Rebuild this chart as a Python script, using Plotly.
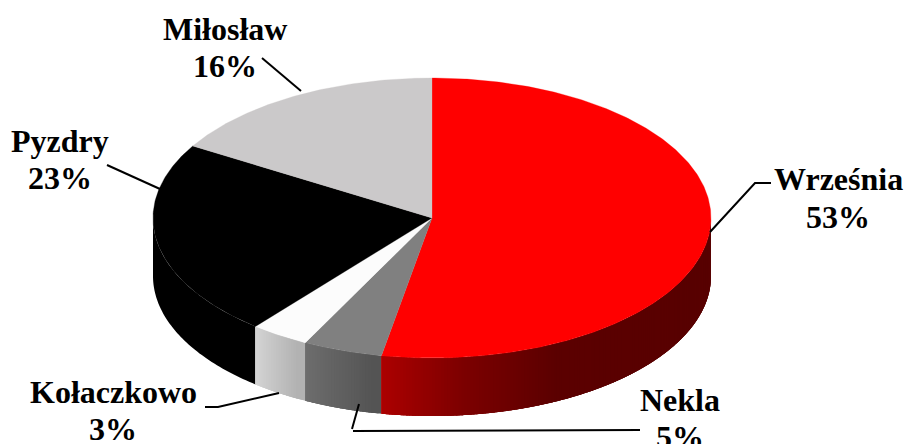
import numpy as np
import plotly.graph_objects as go

categories = ["Września", "Nekla", "Kołaczkowo", "Pyzdry", "Miłosław"]
values = [52.9, 4.6, 3.4, 22.7, 16.4]
percent_labels = ["53%", "5%", "3%", "23%", "16%"]
top_colors = ["#ff0000", "#808080", "#fcfcfc", "#000000", "#cbc9ca"]
# wall colour at left edge / right edge of each slice's visible side (by x)
wall_stops = [
    [(382, (176, 0, 0)), (470, (125, 0, 0)), (560, (92, 0, 0)), (711, (88, 0, 0))],
    [(305, (112, 112, 112)), (382, (84, 84, 84))],
    [(256, (216, 216, 216)), (305, (178, 178, 178))],
    [(153, (0, 0, 0)), (256, (0, 0, 0))],
    [(153, (120, 120, 120)), (256, (120, 120, 120))],
]
CX, CY, RX, RY, DEPTH = 432, 218, 279, 140, 58
FONT = "Liberation Serif"
FS = 32

# label centres: (x, y of name, y of percent)
label_pos = [(838, 179, 217), (680, 400, 437), (113, 392, 429), (60, 141, 178), (225, 29, 66)]
leaders = [
    [(710, 232), (755, 183), (771, 183)],
    [(359, 404), (352, 429)],
    [(353, 431), (640, 430)],
    [(205, 407), (218, 407), (279, 393)],
    [(107, 165), (160, 189)],
    [(262, 58), (301, 91)],
]


def pt(a):
    return CX + RX * np.sin(a), CY - RY * np.cos(a)


fig = go.Figure()
total = sum(values)
bounds = np.cumsum([0] + values) / total * 2 * np.pi

# side walls: each strip overlaps the next one, which paints over it
for i in [3, 2, 1, 0]:
    a0, a1 = bounds[i], bounds[i + 1]
    lo, hi = max(a0, np.pi / 2), min(a1, 3 * np.pi / 2)
    if lo >= hi:
        continue
    stops = wall_stops[i]
    flat = stops[0][1] == stops[-1][1]
    n = 1 if flat else max(10, int((hi - lo) / np.radians(0.6)))
    edges = np.linspace(lo, hi, n + 1)
    sx = [s[0] for s in stops]
    # paint from the far end of the slice side back, so that strips overlap
    for k in range(n - 1, -1, -1):
        start = edges[k]
        end = min(edges[k + 1] + np.radians(1.5), hi)
        e = np.linspace(start, end, 6 if not flat else 60)
        x, y = pt(e)
        midx = pt((edges[k] + edges[k + 1]) / 2)[0]
        rgb = [int(np.interp(midx, sx, [s[1][c] for s in stops])) for c in range(3)]
        col = f"rgb({rgb[0]},{rgb[1]},{rgb[2]})"
        fig.add_trace(go.Scatter(
            x=list(x) + list(x[::-1]),
            y=list(y) + list((y + DEPTH)[::-1]),
            mode="none", fill="toself", fillcolor=col,
            hoverinfo="skip", showlegend=False))

# top faces
for i, name in enumerate(categories):
    e = np.linspace(bounds[i], bounds[i + 1], max(6, int(values[i] * 6)))
    x, y = pt(e)
    fig.add_trace(go.Scatter(
        x=[CX] + list(x) + [CX], y=[CY] + list(y) + [CY],
        mode="lines", fill="toself", fillcolor=top_colors[i],
        line=dict(color=top_colors[i], width=0.3),
        name=name, hoverinfo="name", showlegend=False))

# leader lines
for path in leaders:
    fig.add_trace(go.Scatter(
        x=[p[0] for p in path], y=[p[1] for p in path], mode="lines",
        line=dict(color="black", width=2), hoverinfo="skip", showlegend=False))

for name, pct, (x, y1, y2) in zip(categories, percent_labels, label_pos):
    for text, y in ((name, y1), (pct, y2)):
        fig.add_annotation(x=x, y=y, text=f"<b>{text}</b>", showarrow=False, xref="x", yref="y",
                           xanchor="center", yanchor="middle",
                           font=dict(family=FONT, size=FS, color="black"))

fig.update_layout(
    width=905, height=444, margin=dict(l=0, r=0, t=0, b=0),
    paper_bgcolor="white", plot_bgcolor="white",
    xaxis=dict(range=[0, 905], visible=False, fixedrange=True),
    yaxis=dict(range=[444, 0], visible=False, fixedrange=True),
)
fig.write_html("out.html", config={"displayModeBar": False},
               post_script="document.body.style.margin='0';document.body.style.overflow='hidden';")
